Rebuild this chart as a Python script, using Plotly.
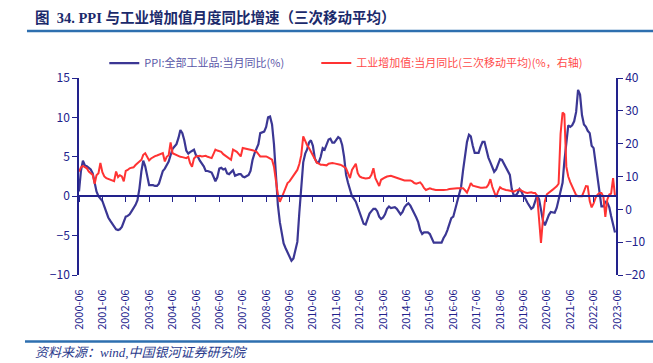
import pandas as pd
import plotly.graph_objects as go

# Monthly dates 2000-06 .. 2023-05
months = pd.date_range("2000-06-01", periods=276, freq="MS")

# PPI: all industrial products, yoy (%)  -- left axis
ppi_yoy = [
    0.6, 3.2, 4.5, 3.9, 3.8, 3.6, 3.4,                                  # 2000 Jun-Dec
    2.9, 1.5, 0.6, 0.0, -0.3, -0.6, -1.3, -2.1, -2.7, -3.1, -3.5, -3.9,  # 2001
    -4.2, -4.3, -4.2, -3.9, -3.1, -2.6, -2.5, -2.3, -1.9, -1.5, -1.1, -0.5,  # 2002
    1.0, 3.2, 4.5, 3.8, 2.4, 1.4, 1.4, 1.4, 1.3, 1.3, 1.6, 2.3,          # 2003
    3.2, 3.5, 3.9, 4.4, 5.2, 6.0, 6.3, 6.6, 7.4, 8.4, 8.0, 7.1,          # 2004
    5.8, 5.4, 5.6, 5.8, 5.9, 5.2, 5.0, 4.5, 4.2, 3.8, 3.2, 3.2,          # 2005
    3.1, 3.0, 2.5, 1.9, 2.4, 3.5, 3.6, 3.4, 3.5, 2.9, 2.8, 3.1,          # 2006
    3.3, 2.6, 2.7, 2.8, 2.8, 2.5, 2.4, 2.6, 2.7, 3.2, 4.6, 5.4,          # 2007
    6.1, 6.6, 8.0, 8.1, 8.2, 8.8, 10.0, 10.1, 9.1, 6.6, 2.0, -1.1,       # 2008
    -3.3, -4.5, -6.0, -6.6, -7.2, -7.8, -8.2, -7.9, -7.0, -5.8, -2.1, 1.7,  # 2009
    4.3, 5.4, 5.9, 6.8, 7.1, 6.4, 4.8, 4.3, 4.3, 5.0, 6.1, 5.9,          # 2010
    6.6, 7.2, 7.3, 6.8, 6.8, 7.1, 7.5, 7.3, 6.5, 5.0, 2.7, 1.7,          # 2011
    0.7, 0.0, -0.3, -0.7, -1.4, -2.1, -2.9, -3.5, -3.6, -2.8, -2.2, -1.9,  # 2012
    -1.6, -1.6, -1.9, -2.6, -2.9, -2.7, -2.3, -1.6, -1.3, -1.5, -1.4, -1.4,  # 2013
    -1.6, -2.0, -2.3, -2.0, -1.4, -1.1, -0.9, -1.2, -1.8, -2.2, -2.7, -3.3,  # 2014
    -4.3, -4.8, -4.6, -4.6, -4.6, -4.8, -5.4, -5.9, -5.9, -5.9, -5.9, -5.9,  # 2015
    -5.3, -4.9, -4.3, -3.4, -2.8, -2.6, -1.7, -0.8, 0.1, 1.2, 3.3, 5.5,  # 2016
    6.9, 7.8, 7.6, 6.4, 5.5, 5.5, 5.5, 6.3, 6.9, 6.9, 5.8, 4.9,          # 2017
    4.3, 3.7, 3.1, 3.4, 4.1, 4.7, 4.6, 4.1, 3.6, 3.3, 2.7, 0.9,          # 2018
    0.1, 0.1, 0.4, 0.9, 0.6, 0.0, -0.3, -0.8, -1.2, -1.6, -1.4, -0.5,    # 2019
    0.1, -0.4, -1.5, -3.1, -3.7, -3.0, -2.4, -2.0, -2.1, -2.1, -1.5, -0.4,  # 2020
    0.3, 1.7, 4.4, 6.8, 9.0, 8.8, 9.0, 9.5, 10.7, 13.5, 12.9, 10.3,      # 2021
    9.1, 8.8, 8.3, 8.0, 6.4, 6.1, 4.2, 2.3, 0.9, -1.3, -1.3, -0.7,       # 2022
    -0.8, -1.4, -2.5, -3.6, -4.6,                                        # 2023 Jan-May
]

# Industrial value added yoy, 3-month moving average (%) -- right axis
iva_3mma = [
    11.5, 12.8, 13.2, 12.8, 12.5, 11.5, 11.0,                            # 2000 Jun-Dec
    10.5, 7.8, 10.4, 11.0, 14.1, 11.3, 10.0, 9.5, 9.3, 9.2, 9.0, 8.6,     # 2001
    11.5, 9.8, 10.4, 10.0, 8.5, 11.7, 12.0, 12.5, 12.7, 12.8, 13.5, 14.1,  # 2002
    14.5, 15.1, 16.6, 17.1, 16.0, 14.9, 15.5, 15.9, 16.2, 16.4, 16.6, 17.0,  # 2003
    17.1, 14.6, 16.0, 16.5, 20.4, 17.1, 16.8, 16.4, 16.1, 16.0, 15.9, 15.8,  # 2004
    15.6, 16.0, 14.1, 13.0, 15.5, 16.1, 16.2, 16.3, 16.1, 16.2, 16.3, 16.0,  # 2005
    15.8, 15.6, 16.8, 18.2, 17.9, 17.6, 17.5, 16.8, 16.3, 16.0, 15.5, 15.1,  # 2006
    18.2, 17.8, 17.5, 16.8, 16.1, 18.7, 18.6, 18.5, 18.4, 18.2, 18.0, 17.8,  # 2007
    17.6, 16.8, 16.1, 16.1, 16.1, 16.1, 15.8, 15.5, 15.1, 13.0, 8.5, 4.5,    # 2008
    2.3, 3.5, 5.0, 6.5, 8.0, 8.5, 9.3, 10.4, 11.3, 12.0, 13.8, 16.5,         # 2009
    22.2, 20.5, 19.6, 18.7, 17.6, 16.5, 15.1, 14.2, 13.9, 13.6, 13.6, 13.5,  # 2010
    13.4, 13.9, 14.1, 14.1, 14.0, 13.9, 13.9, 13.6, 13.3, 13.0, 12.5, 11.0,  # 2011
    9.5, 12.0, 12.8, 13.9, 11.0, 10.0, 9.7, 9.5, 9.4, 9.5, 9.6, 10.5,        # 2012
    12.5, 9.5, 8.5, 7.1, 9.0, 9.5, 9.7, 10.0, 10.1, 10.2, 10.0, 9.8,         # 2013
    9.6, 9.4, 9.1, 8.8, 8.8, 8.8, 8.8, 8.8, 8.5, 8.0, 7.8, 8.0,              # 2014
    8.2, 7.5, 6.5, 5.9, 6.2, 6.4, 6.2, 6.0, 5.9, 5.9, 6.0, 5.9,              # 2015
    5.9, 5.9, 6.0, 6.2, 6.3, 6.4, 6.4, 6.4, 6.4, 6.4, 6.4, 5.8,              # 2016
    5.1, 6.5, 8.0, 7.2, 7.0, 6.9, 6.8, 6.6, 6.6, 6.7, 6.7, 7.5,              # 2017
    9.2, 6.8, 5.5, 3.7, 5.5, 6.7, 6.3, 6.0, 5.9, 5.8, 5.6, 5.5,              # 2018
    5.4, 5.7, 6.0, 6.1, 5.7, 5.3, 5.1, 5.0, 5.1, 5.2, 5.0, 5.0,              # 2019
    4.2, -3.0, -10.2, -3.0, 2.5, 4.6, 5.0, 5.5, 6.0, 6.5, 7.0, 7.8,          # 2020
    23.0, 29.5, 29.0, 13.0, 10.0, 8.3, 6.8, 5.5, 4.3, 4.0, 3.9, 4.0,         # 2021
    5.5, 7.1, 7.0, 2.5, 0.6, 1.8, 3.5, 4.5, 5.0, 5.0, 3.8, -2.3,             # 2022
    3.0, 4.5, 4.8, 9.5, 4.0,                                                 # 2023 Jan-May
]

left_ticks = [-10, -5, 0, 5, 10, 15]
right_ticks = [-20, -10, 0, 10, 20, 30, 40]

NAVY = "#22228C"
BLUE_LINE = "#3B3794"
RED_LINE = "#FF3333"
SANS = "Noto Sans CJK SC, Noto Sans, sans-serif"
SERIF = "Liberation Serif, Noto Sans CJK SC, serif"

fig = go.Figure()
fig.add_trace(go.Scatter(
    x=months, y=ppi_yoy, mode="lines",
    name='<span style="color:#5A57A8">PPI:全部工业品:当月同比(%)</span>',
    line=dict(color=BLUE_LINE, width=2.2),
    xaxis="x", yaxis="y", legendwidth=167,
))
fig.add_trace(go.Scatter(
    x=months, y=iva_3mma, mode="lines",
    name='<span style="color:#FF4A4A">工业增加值:当月同比(三次移动平均)(%，右轴)</span>',
    line=dict(color=RED_LINE, width=2.0),
    xaxis="x2", yaxis="y2", legendwidth=260,
))

xr = ["2000-06-01", "2023-06-01"]
fig.update_layout(
    width=653, height=363,
    margin=dict(l=79, r=36, t=78, b=88, autoexpand=False),
    paper_bgcolor="white", plot_bgcolor="white",
    showlegend=True,
    legend=dict(orientation="h", x=0.047, y=1.076, xanchor="left", yanchor="middle",
                font=dict(size=11, family=SANS),
                bgcolor="rgba(0,0,0,0)", itemwidth=30),
    xaxis=dict(type="date", range=xr, tick0="2000-06-01", dtick="M12", tickformat="%Y-%m",
               tickangle=-90, showgrid=False, zeroline=False, showline=False,
               ticks="outside", ticklen=9, tickcolor="rgba(0,0,0,0)",
               tickfont=dict(size=11, family=SANS, color=NAVY)),
    xaxis2=dict(type="date", range=xr, tick0="2000-06-01", dtick="M12",
                overlaying="x", anchor="free", position=0.4, side="bottom",
                showgrid=False, zeroline=False, showline=True, linecolor=NAVY, linewidth=1.5,
                ticks="outside", ticklen=5, tickcolor=NAVY, tickwidth=1, showticklabels=False),
    yaxis=dict(range=[-10, 15], tickvals=left_ticks, showgrid=False, zeroline=False,
               showline=True, linecolor=NAVY, linewidth=1.5,
               ticks="outside", ticklen=5, tickcolor=NAVY,
               tickfont=dict(size=12, family=SANS, color=NAVY)),
    yaxis2=dict(range=[-20, 40], tickvals=right_ticks, overlaying="y", side="right",
                anchor="free", position=1.0, showgrid=False, zeroline=False,
                showline=True, linecolor=NAVY, linewidth=1.5,
                ticks="outside", ticklen=5, tickcolor=NAVY,
                tickfont=dict(size=12, family=SANS, color=NAVY)),
)

# title, separators and source note
fig.add_annotation(
    text="<b>图\u00a0 34. PPI 与工业增加值月度同比增速（三次移动平均）</b>",
    xref="paper", yref="paper", x=-0.0855, y=1.3096, xanchor="left", yanchor="middle",
    showarrow=False, font=dict(size=14.5, family=SERIF, color="#1B2A6B"),
)
fig.add_annotation(
    text="<i>资料来源：wind,中国银河证券研究院</i>",
    xref="paper", yref="paper", x=-0.0855, y=-0.393, xanchor="left", yanchor="middle",
    showarrow=False, font=dict(size=13, family=SERIF, color="#2A3A8C"),
)
fig.add_shape(type="line", xref="paper", yref="paper", x0=-0.0967, x1=1.07, y0=1.2386, y1=1.2386,
              line=dict(color="#2E6FAF", width=2.5))
fig.add_shape(type="line", xref="paper", yref="paper", x0=-0.1004, x1=1.07, y0=-0.3376, y1=-0.3376,
              line=dict(color="#2E6FAF", width=2.5))

fig.write_html("out.html", config={"displayModeBar": False},
               post_script="document.body.style.margin='0';document.body.style.overflow='hidden';")
